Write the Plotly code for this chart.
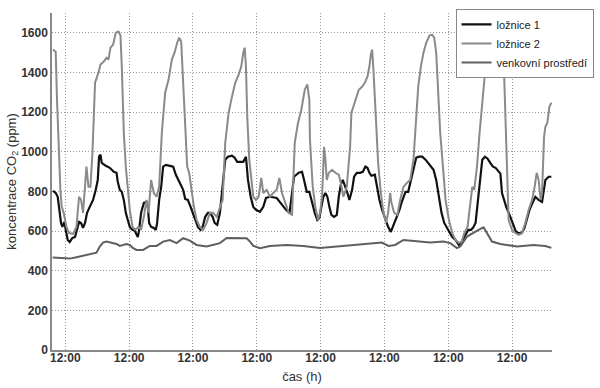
import plotly.graph_objects as go

# time in hours from start of record; ppm values
loz2_t = [0.38, 1.39, 1.88, 2.64, 3.16, 3.65, 4.41, 5.42, 6.40, 7.91, 9.19, 10.17, 10.92, 11.67, 12.42, 12.95, 13.70, 14.46, 15.21, 16.19, 17.47, 18.22, 19.47, 20.48, 21.23, 21.99, 22.97, 23.98, 25.00, 25.75, 26.24, 27.00, 27.75, 28.50, 29.25, 30.27, 31.25, 32.53, 33.51, 34.53, 35.54, 36.30, 37.27, 38.29, 39.31, 40.29, 41.30, 42.55, 43.83, 45.07, 46.08, 47.06, 47.82, 48.57, 49.32, 50.08, 50.83, 51.58, 52.33, 53.35, 54.37, 55.61, 56.85, 58.13, 59.37, 60.62, 61.90, 63.14, 64.16, 65.14, 66.42, 67.66, 68.90, 70.18, 71.16, 71.91, 72.44, 72.93, 73.42, 74.17, 74.92, 75.68, 76.69, 77.71, 78.69, 79.44, 80.72, 81.97, 83.21, 84.49, 85.47, 86.48, 87.73, 89.01, 90.25, 91.27, 92.51, 93.75, 95.03, 96.01, 96.76, 96.99, 98.04, 99.02, 100.04, 100.79, 101.54, 102.30, 102.79, 103.31, 104.07, 105.31, 106.55, 107.83, 108.58, 109.56, 110.84, 112.09, 112.58, 113.33, 114.35, 115.36, 116.60, 117.62, 118.60, 119.35, 119.88, 120.37, 120.86, 121.61, 122.63, 123.64, 124.62, 125.64, 126.39, 127.15, 127.64, 128.65, 129.89, 130.91, 132.15, 133.43, 134.68, 135.92, 136.67, 137.69, 138.70, 139.68, 140.70, 141.94, 142.96, 143.71, 144.46, 145.22, 145.97, 146.99, 147.97, 149.25, 150.49, 151.73, 153.01, 154.00, 155.01, 156.25, 157.27, 158.02, 158.77, 159.79, 160.77, 162.05, 163.03, 164.04, 165.06, 166.70, 168.60, 169.70, 169.90, 170.50, 171.69, 172.97, 174.21, 175.45, 176.73, 177.98, 179.22, 180.50, 181.48, 182.23, 182.98, 183.73, 184.26, 185.02, 185.51, 186.26, 187.01, 187.76]
loz2_v = [1515, 1505, 1262, 925, 808, 722, 692, 621, 590, 586, 621, 773, 757, 692, 823, 925, 823, 823, 995, 1348, 1399, 1440, 1455, 1474, 1465, 1525, 1540, 1600, 1606, 1586, 1430, 1096, 925, 823, 707, 621, 606, 621, 606, 672, 757, 692, 858, 792, 773, 823, 1096, 1298, 1364, 1465, 1500, 1550, 1576, 1556, 1348, 1096, 925, 894, 808, 722, 656, 621, 606, 641, 692, 692, 672, 722, 757, 1045, 1197, 1278, 1348, 1389, 1430, 1500, 1525, 1430, 1177, 960, 858, 773, 757, 773, 868, 792, 808, 773, 792, 808, 868, 792, 742, 692, 682, 1045, 1146, 1212, 1313, 1340, 1262, 1060, 823, 722, 656, 692, 773, 1025, 960, 858, 894, 909, 894, 884, 843, 773, 823, 1025, 1197, 1227, 1262, 1313, 1328, 1348, 1379, 1430, 1490, 1515, 1414, 1197, 944, 792, 692, 641, 692, 792, 742, 692, 682, 757, 823, 843, 858, 960, 1126, 1328, 1430, 1500, 1550, 1586, 1591, 1576, 1500, 1262, 1096, 925, 757, 656, 590, 555, 540, 545, 590, 621, 757, 823, 808, 925, 1096, 1278, 1430, 1440, 1430, 1530, 1560, 1520, 1440, 1100, 656, 606, 590, 581, 590, 641, 707, 757, 823, 894, 858, 757, 792, 1076, 1126, 1146, 1227, 1247]

loz1_t = [0.38, 1.39, 2.15, 2.90, 3.39, 3.92, 4.67, 5.16, 5.91, 6.66, 7.68, 8.66, 9.41, 10.17, 10.92, 11.67, 12.42, 13.18, 14.19, 15.44, 16.45, 17.21, 17.70, 18.22, 18.71, 20.22, 21.72, 23.23, 24.25, 24.74, 25.49, 26.24, 27.00, 27.75, 28.50, 29.25, 30.27, 31.02, 31.51, 32.27, 32.76, 33.51, 34.53, 35.54, 36.03, 36.52, 37.27, 38.29, 39.04, 39.53, 40.29, 41.04, 41.79, 42.81, 44.31, 45.56, 46.57, 47.59, 48.34, 49.32, 50.08, 51.09, 52.11, 52.86, 53.84, 54.86, 55.87, 56.63, 57.61, 58.62, 59.38, 60.39, 61.14, 62.12, 63.14, 64.16, 65.14, 66.15, 67.66, 68.67, 69.65, 71.91, 72.93, 73.68, 74.70, 75.68, 76.69, 78.20, 79.44, 80.46, 81.97, 84.49, 85.73, 86.97, 87.99, 89.31, 90.14, 91.00, 92.77, 94.01, 94.77, 95.78, 96.76, 97.78, 98.80, 99.77, 100.53, 101.28, 102.03, 102.79, 103.54, 104.29, 105.05, 106.06, 107.08, 107.83, 108.58, 109.34, 110.32, 111.07, 111.82, 112.84, 113.59, 114.61, 115.85, 116.87, 117.85, 118.60, 119.35, 120.11, 121.39, 122.14, 123.12, 124.13, 125.38, 126.39, 127.41, 128.16, 128.92, 129.67, 130.65, 131.40, 132.15, 132.91, 133.92, 134.94, 135.92, 136.94, 137.95, 139.19, 140.44, 141.45, 142.47, 143.45, 144.46, 145.48, 146.46, 147.48, 148.49, 149.47, 150.49, 151.73, 153.01, 153.77, 154.74, 155.76, 156.51, 157.53, 158.28, 159.26, 160.01, 161.03, 161.78, 162.80, 163.78, 164.80, 165.81, 166.79, 167.81, 168.60, 169.20, 170.84, 172.08, 173.36, 174.34, 175.36, 176.61, 177.63, 178.64, 179.62, 180.61, 181.74, 182.98, 184.26, 185.51, 186.75, 187.76]
loz1_v = [803, 792, 773, 707, 641, 621, 646, 606, 555, 545, 565, 570, 606, 646, 641, 616, 641, 692, 722, 757, 808, 858, 975, 985, 944, 929, 919, 899, 894, 848, 808, 798, 757, 692, 656, 621, 606, 606, 590, 570, 606, 692, 742, 747, 722, 641, 621, 616, 606, 641, 757, 823, 925, 934, 929, 925, 884, 858, 833, 808, 762, 757, 722, 692, 656, 621, 606, 621, 672, 692, 692, 672, 641, 631, 692, 823, 960, 975, 980, 970, 949, 949, 975, 858, 773, 722, 707, 697, 722, 767, 773, 767, 747, 722, 707, 692, 792, 874, 894, 899, 858, 798, 798, 742, 692, 656, 666, 722, 773, 792, 773, 722, 682, 672, 682, 773, 833, 858, 823, 792, 757, 808, 874, 894, 894, 899, 925, 919, 894, 879, 884, 823, 757, 707, 656, 621, 596, 621, 651, 672, 707, 742, 773, 798, 798, 858, 925, 970, 975, 975, 960, 944, 925, 909, 858, 773, 692, 641, 616, 590, 570, 555, 530, 540, 565, 590, 606, 606, 616, 641, 742, 858, 960, 975, 965, 944, 925, 919, 900, 890, 792, 720, 680, 630, 600, 590, 590, 615, 660, 710, 740, 773, 757, 747, 858, 874, 874]

out_t = [0.26, 2.90, 5.42, 6.66, 9.19, 11.67, 14.19, 16.72, 17.96, 19.20, 20.48, 21.72, 24.25, 25.49, 28.01, 29.25, 30.50, 31.78, 34.26, 36.78, 39.31, 41.79, 44.31, 46.84, 49.32, 51.84, 54.37, 58.13, 63.14, 65.66, 69.43, 73.19, 74.44, 75.68, 78.20, 81.97, 88.25, 94.50, 100.79, 107.68, 113.97, 120.26, 124.02, 126.51, 129.03, 132.15, 137.20, 142.21, 147.21, 149.74, 152.26, 153.50, 156.02, 158.51, 160.39, 162.27, 163.55, 165.43, 168.56, 174.85, 181.10, 185.51, 187.76]
out_v = [466, 465, 461, 461, 468, 475, 480, 491, 522, 542, 547, 542, 535, 525, 535, 530, 514, 505, 505, 525, 525, 547, 555, 539, 564, 552, 530, 522, 539, 565, 566, 564, 547, 525, 514, 525, 530, 525, 514, 522, 527, 535, 542, 525, 530, 555, 547, 542, 547, 539, 514, 522, 572, 589, 606, 619, 589, 547, 535, 522, 530, 525, 515]

tick_hours = [5, 29, 53, 77, 101, 125, 149, 173]
tick_text = ["12:00"] * len(tick_hours)
y_ticks = [0, 200, 400, 600, 800, 1000, 1200, 1400, 1600]

fig = go.Figure()
fig.add_trace(go.Scatter(x=loz1_t, y=loz1_v, mode="lines", name="ložnice 1",
                         line=dict(color="#111111", width=2.2)))
fig.add_trace(go.Scatter(x=loz2_t, y=loz2_v, mode="lines", name="ložnice 2",
                         line=dict(color="#8a8a8a", width=2)))
fig.add_trace(go.Scatter(x=out_t, y=out_v, mode="lines", name="venkovní prostředí",
                         line=dict(color="#5f5f5f", width=2)))

axis_font = dict(family="Liberation Sans, Arial, sans-serif", size=12, color="#333333", weight="bold")
grid_dash = "1px,2px"
fig.update_layout(
    width=600, height=388,
    margin=dict(l=52, r=48, t=13, b=38, autoexpand=False),
    paper_bgcolor="white", plot_bgcolor="white",
    font=dict(family="Liberation Sans, Arial, sans-serif", color="#333333"),
    showlegend=True,
    legend=dict(x=0.807, y=1.012, xanchor="left", yanchor="top",
                bgcolor="white", bordercolor="#888888", borderwidth=1,
                font=dict(size=11, color="#222222"), itemwidth=30,
                tracegroupgap=0),
    xaxis=dict(range=[0, 188], tickmode="array", tickvals=tick_hours, ticktext=tick_text,
               showgrid=True, gridcolor="#999999", griddash=grid_dash, gridwidth=1,
               showline=True, linecolor="#888888", linewidth=1.5, zeroline=False,
               ticks="", tickfont=axis_font, ticklabelstandoff=-4, automargin=False,
               title=dict(text="čas (h)", font=dict(size=13, color="#333333"), standoff=8)),
    yaxis=dict(range=[0, 1700], tickmode="array", tickvals=y_ticks,
               showgrid=True, gridcolor="#999999", griddash=grid_dash, gridwidth=1,
               showline=True, linecolor="#888888", linewidth=1.5, zeroline=False,
               ticks="", tickfont=axis_font, automargin=False,
               title=dict(text="koncentrace CO<sub>2</sub> (ppm)", font=dict(size=13, color="#333333"), standoff=2)),
)

fig.write_html("out.html", config={"displayModeBar": False},
               post_script="document.body.style.margin='0';")
